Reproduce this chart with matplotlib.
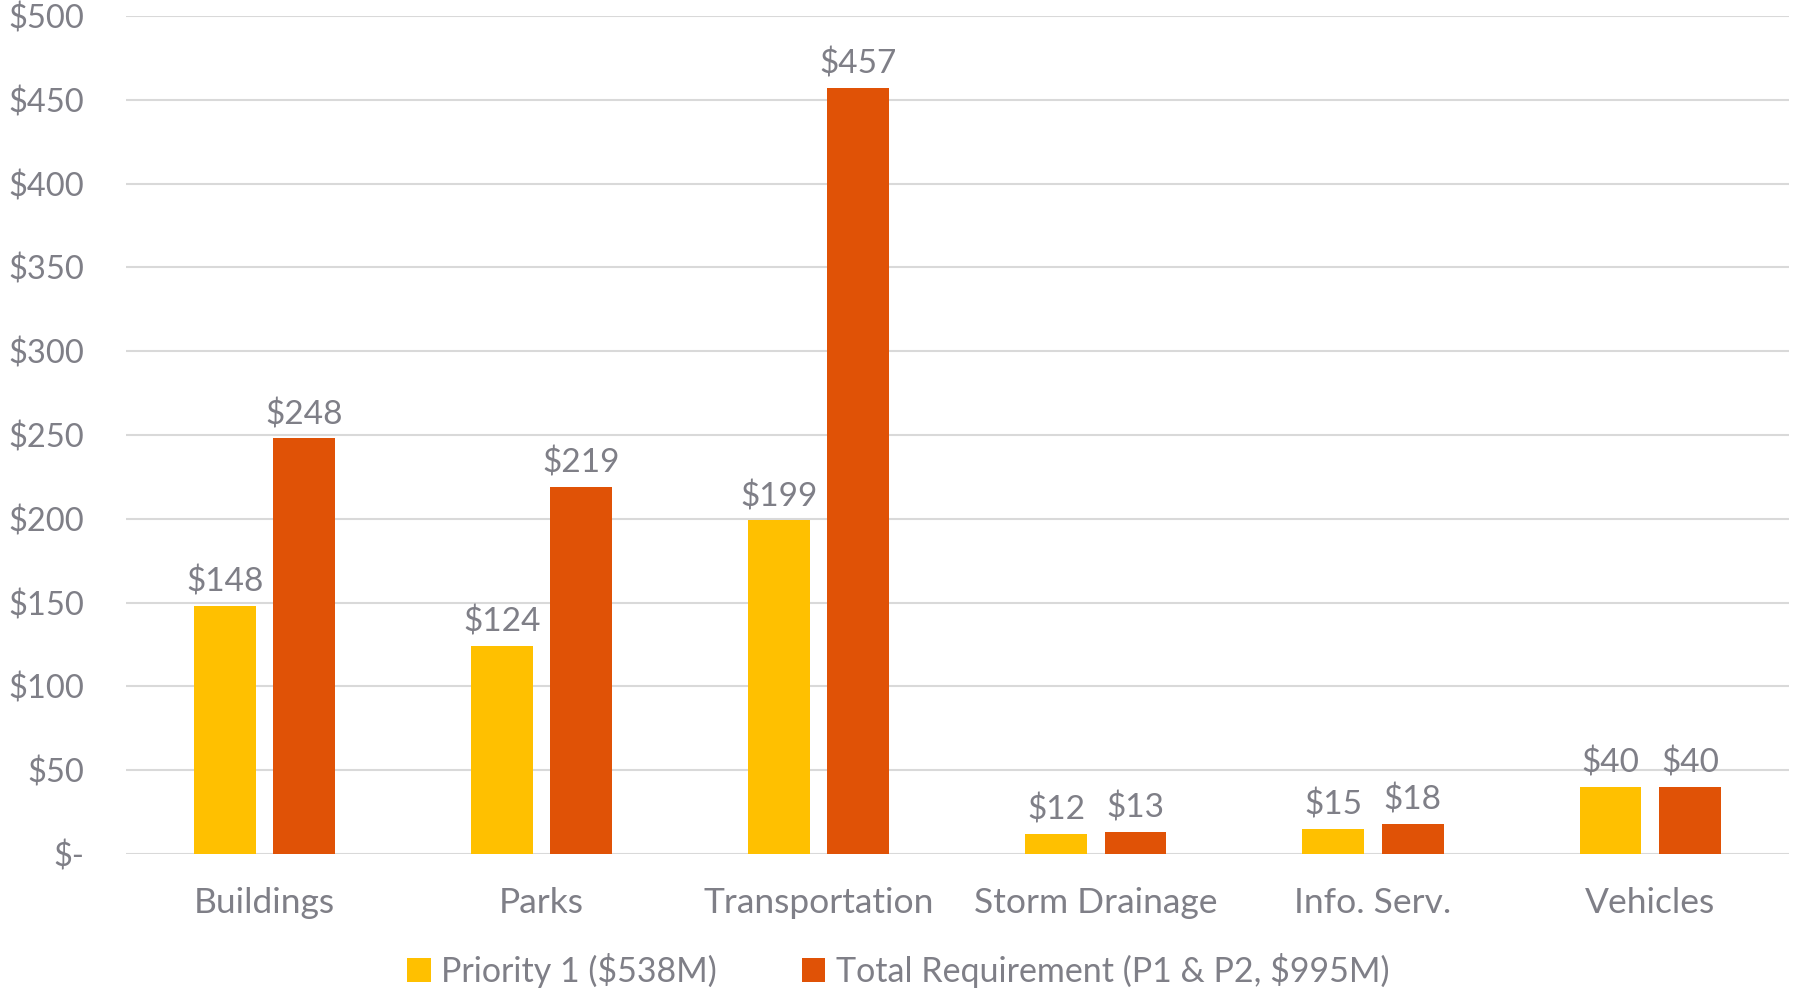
import numpy as np
import matplotlib.pyplot as plt

# Data (millions of dollars)
categories = ['Buildings', 'Parks', 'Transportation', 'Storm Drainage', 'Info. Serv.', 'Vehicles']
priority1 = [148, 124, 199, 12, 15, 40]
total_req = [248, 219, 457, 13, 18, 40]
series_names = ['Priority 1 ($538M)', 'Total Requirement (P1 & P2, $995M)']
yticks = [0, 50, 100, 150, 200, 250, 300, 350, 400, 450, 500]

yellow = '#FFC000'
orange = '#E05206'
gray = '#7F7F87'

plt.rcParams['font.family'] = ['Lato', 'DejaVu Sans']

fig = plt.figure(figsize=(17.96, 9.92), dpi=100)
ax = fig.add_axes([0.070, 0.139, 0.926, 0.845])

x = np.arange(len(categories))
w = 0.223
off = 0.143
b1 = ax.bar(x - off, priority1, w, color=yellow, label=series_names[0], zorder=3)
b2 = ax.bar(x + off, total_req, w, color=orange, label=series_names[1], zorder=3)

# Value labels above bars
for bars in (b1, b2):
    for rect in bars:
        h = rect.get_height()
        ax.annotate(f'${h:.0f}', (rect.get_x() + rect.get_width() / 2, h),
                    xytext=(0, 6), textcoords='offset points',
                    ha='center', va='bottom', fontsize=24, color=gray)

ax.set_xlim(-0.5, len(categories) - 0.5)
ax.set_ylim(0, 500)
ax.set_yticks(yticks)
ax.set_yticklabels(['$-' if v == 0 else f'${v}' for v in yticks])
ax.set_xticks(x)
ax.set_xticklabels(categories)
ax.tick_params(axis='both', length=0, colors=gray)
ax.tick_params(axis='x', pad=24, labelsize=25.5)
ax.tick_params(axis='y', pad=30, labelsize=23.5)
for lab in ax.get_yticklabels():
    lab.set_horizontalalignment('right')

ax.grid(axis='y', color='#D9D9D9', linewidth=1.5, zorder=0)
for s in ax.spines.values():
    s.set_visible(False)

leg = fig.legend(handles=[b1, b2], loc='center', bbox_to_anchor=(0.5, 0.022),
                 ncol=2, frameon=False, fontsize=24.5, handlelength=0.7,
                 handleheight=0.7, handletextpad=0.3, columnspacing=2.5)
for t in leg.get_texts():
    t.set_color(gray)

fig.savefig('out.png', dpi=100)
